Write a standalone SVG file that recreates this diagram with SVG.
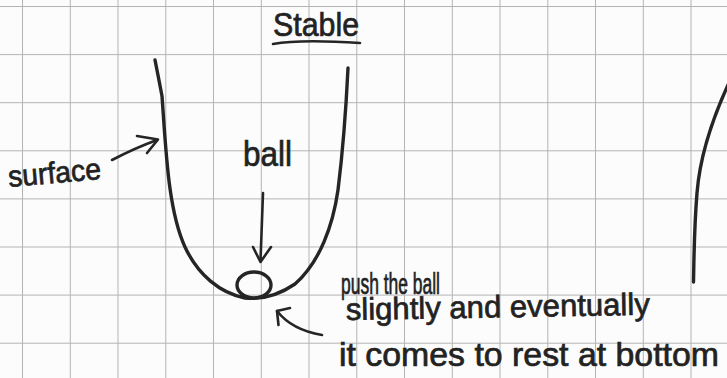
<svg xmlns="http://www.w3.org/2000/svg" width="727" height="378" viewBox="0 0 727 378">
  <style>
    .grid line { stroke: #b4b4b4; stroke-width: 1; }
    .ink { fill: none; stroke: #252525; stroke-width: 3.4; stroke-linecap: round; stroke-linejoin: round; }
    .thin { fill: none; stroke: #252525; stroke-width: 2.6; stroke-linecap: round; stroke-linejoin: round; }
    .hand { font-family: "Liberation Sans", Arial, sans-serif; fill: #222; stroke: #222; stroke-width: 0.7; }
  </style>
  <rect x="0" y="0" width="727" height="378" fill="#fcfcfc"/>
  <g class="grid" id="grid">
    <line x1="22.5" y1="0" x2="22.5" y2="378"/>
    <line x1="70.3" y1="0" x2="70.3" y2="378"/>
    <line x1="118" y1="0" x2="118" y2="378"/>
    <line x1="165.8" y1="0" x2="165.8" y2="378"/>
    <line x1="213.5" y1="0" x2="213.5" y2="378"/>
    <line x1="261.3" y1="0" x2="261.3" y2="378"/>
    <line x1="309" y1="0" x2="309" y2="378"/>
    <line x1="356.8" y1="0" x2="356.8" y2="378"/>
    <line x1="404.5" y1="0" x2="404.5" y2="378"/>
    <line x1="452.3" y1="0" x2="452.3" y2="378"/>
    <line x1="500" y1="0" x2="500" y2="378"/>
    <line x1="547.8" y1="0" x2="547.8" y2="378"/>
    <line x1="595.5" y1="0" x2="595.5" y2="378"/>
    <line x1="643.3" y1="0" x2="643.3" y2="378"/>
    <line x1="691" y1="0" x2="691" y2="378"/>
    <line x1="0" y1="6.5" x2="727" y2="6.5"/>
    <line x1="0" y1="54.6" x2="727" y2="54.6"/>
    <line x1="0" y1="102.7" x2="727" y2="102.7"/>
    <line x1="0" y1="150.8" x2="727" y2="150.8"/>
    <line x1="0" y1="198.9" x2="727" y2="198.9"/>
    <line x1="0" y1="247" x2="727" y2="247"/>
    <line x1="0" y1="295.1" x2="727" y2="295.1"/>
    <line x1="0" y1="343.2" x2="727" y2="343.2"/>
  </g>

  <g id="title">
    <text class="hand" x="273" y="36" font-size="33" textLength="86" lengthAdjust="spacingAndGlyphs">Stable</text>
    <path class="thin" d="M273,44 Q300,39 360,43"/>
  </g>

  <g id="surface">
    <path class="ink" d="M155,60 Q158,75 162,96 C166,150 168,210 185,247 C198,275 220,293 245,298 C260,299.5 276,297 295,284 C320,262 333,225 338,190 C343,150 346,110 348,68"/>
  </g>

  <g id="ball">
    <ellipse class="ink" cx="254" cy="285" rx="17" ry="13"/>
  </g>

  <g id="right-curve">
    <path class="ink" d="M728,85 C712,120 700,155 697,193 C694,230 694,260 693.5,282" stroke-width="3.8"/>
  </g>

  <g id="label-surface">
    <text class="hand" x="9" y="187" font-size="30" textLength="93" lengthAdjust="spacingAndGlyphs" transform="rotate(-5 9 187)">surface</text>
  </g>

  <g id="label-ball">
    <text class="hand" x="243" y="166" font-size="35" textLength="49" lengthAdjust="spacingAndGlyphs">ball</text>
  </g>

  <g id="label-push">
    <text class="hand" x="341" y="294" font-size="29" textLength="99" lengthAdjust="spacingAndGlyphs">push the ball</text>
    <text class="hand" x="346" y="320" font-size="31" textLength="304" lengthAdjust="spacingAndGlyphs" transform="rotate(-1 346 320)">slightly and eventually</text>
    <text class="hand" x="339" y="366" font-size="33" textLength="380" lengthAdjust="spacingAndGlyphs">it comes to rest at bottom</text>
  </g>

  <g id="connectors">
    <path class="thin" d="M112,160 Q135,148 157,140"/>
    <path class="thin" d="M137,136 L158,139.5 L147,153"/>
    <path class="thin" d="M263,193 L260.5,261"/>
    <path class="thin" d="M253,247 L260.5,262 L271,247"/>
    <path class="thin" d="M322,335 Q292,330 277,311"/>
    <path class="thin" d="M278.5,325 L277,311 L290,308"/>
  </g>
</svg>
